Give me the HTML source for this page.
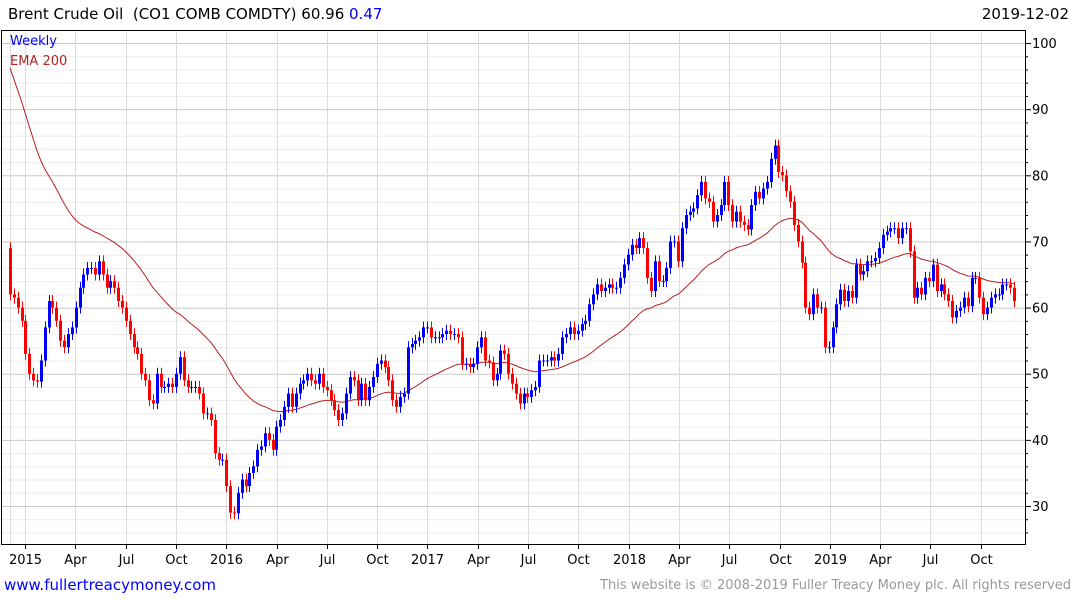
<!DOCTYPE html>
<html><head><meta charset="utf-8"><style>
body{margin:0;background:#fff;font-family:"DejaVu Sans","Liberation Sans",sans-serif;}
#wrap{position:relative;width:1075px;height:600px;overflow:hidden}
.t{position:absolute;white-space:nowrap}
</style></head><body>
<div id="wrap">
<div class="t" style="left:8px;top:5px;font-size:15px;color:#000">Brent Crude Oil&nbsp; (CO1 COMB COMDTY) 60.96 <span style="color:#0000ff">0.47</span></div>
<div class="t" style="right:6px;top:5px;font-size:15px;color:#000">2019-12-02</div>
<svg id="svg" width="1075" height="600" style="position:absolute;left:0;top:0"></svg>
<div class="t" style="left:4px;top:576px;font-size:15px;color:#0000ff">www.fullertreacymoney.com</div>
<div class="t" style="right:4px;top:578px;font-size:13px;color:#999">This website is © 2008-2019 Fuller Treacy Money plc. All rights reserved</div>
</div>
<script>
const closes=[62,61.5,60,58,
53,50,49,48.8,
52,57,61,60,
58,55,54,56,
57,60,63,65,66,
66,65,67,65,
63,64,63,61,
60,58,56,54,53,
50,49,46,45.5,50,
48,48,48.5,48,
50,52.5,49,48,48,
48,47,44,44,
43,38,37,37,
33,29,28.9,32,
34,33,35,36,
38.5,39,41,40,
38.5,42,43,45,47,
45,47,48.5,49,
50,49,48.5,50,
48,47.5,46,44.5,43,
44,47,49.5,49,
46,48.5,46,48,
49.5,51.5,52,51,49,
46,45,46.5,47,
54,54.5,55,55.5,57,
57,55.5,55.5,55.5,
56,56.5,56,56,
55.5,51.5,51.5,51,51.5,
54,55.5,52,51.7,
49,50,53.5,53,
50,48.5,47,45.5,47,
46.5,47.5,48,52,
52,52,52.5,52,
53,55.5,56,57,
56,56.5,57.5,58,60.5,
62,63.5,62.5,63,63.5,
63,63,64.5,66.5,
68,69.5,69,70.5,
69,64.5,62.5,67,64,
64,66,70,70,
67,72,74,74.5,
75,77,79,76.5,
76,73,74,75.5,
79,75.5,73,74.5,
73,72.5,71.8,75.5,77.5,
76.5,78,79,82.5,
84.5,80.5,80,77.6,76,
72.5,70,66.8,60,59,
62,60,60,54,54,
57,60.5,62.7,61,
62.5,61.5,66.5,65,
65.5,67,67,67.5,
69,71,71.5,72,72,
70.5,72,72,68.5,
61.5,63,62,64.5,
64,66.5,62.5,63.5,
62,61,58.5,59.5,60,
61.5,60.2,64.5,64.5,
61.5,59,60,61.5,62,
62,63.5,63.5,63,
60.96];
const firstOpen=69;
const emaSeed=98;
const emaPeriod=40;
const yTicks=[30,40,50,60,70,80,90,100];
const xLabels=["2015","Apr","Jul","Oct","2016","Apr","Jul","Oct","2017","Apr","Jul","Oct","2018","Apr","Jul","Oct","2019","Apr","Jul","Oct"];

const svg=document.getElementById('svg');
const NS='http://www.w3.org/2000/svg';
const L=1,T=30,R=1025,B=544;
const y=v=>506-(v-30)*6.614;
const x0=10,x1=1014;
const x=i=>x0+i*(x1-x0)/(closes.length-1);
const qx=q=>25+q*50.3;
function mk(tag,attrs){const e=document.createElementNS(NS,tag);for(const k in attrs)e.setAttribute(k,attrs[k]);svg.appendChild(e);return e;}
// minor horizontal grid
for(let v=26;v<=102;v+=2){if(y(v)<T||y(v)>B)continue;
 const g=mk('line',{x1:L,x2:R,y1:y(v)+.5,y2:y(v)+.5,stroke:v%10==0?'#c8c8c8':'#ececec','stroke-width':1});
 
 
 const tk=mk('line',{x1:R,x2:R+(v%10==0?6:3),y1:y(v)+.5,y2:y(v)+.5,stroke:'#000'});
 
 
}
// vertical grid
const vg=mk('line',{x1:10.5,x2:10.5,y1:T,y2:B,stroke:'#dcdcdc'});


xLabels.forEach((lab,q)=>{const xx=Math.round(qx(q))+.5;
 const g=mk('line',{x1:xx,x2:xx,y1:T,y2:B,stroke:'#dcdcdc'});
 
 
 const tk=mk('line',{x1:xx,x2:xx,y1:B,y2:B+5,stroke:'#000'});
 
 
 const t=mk('text',{x:xx,y:564,'text-anchor':'middle','font-size':13,'font-family':'DejaVu Sans, Liberation Sans, sans-serif',fill:'#000'});
 t.textContent=lab;
 
 
});
yTicks.forEach(v=>{const t=mk('text',{x:1032,y:y(v)+5,'font-size':13,'font-family':'DejaVu Sans, Liberation Sans, sans-serif',fill:'#000'});
 t.textContent=v;
 
 
});
// frame
const fr=mk('rect',{x:L+.5,y:T+.5,width:R-L,height:B-T,fill:'none',stroke:'#000'});


// EMA
let e=emaSeed,pts=[];const k=2/(emaPeriod+1);
closes.forEach((c,i)=>{e=c*k+e*(1-k);pts.push(x(i).toFixed(1)+','+y(e).toFixed(1));});
const pl=mk('polyline',{points:pts.join(' '),fill:'none',stroke:'#b22222','stroke-width':1});


// candles
closes.forEach((c,i)=>{const o=i?closes[i-1]:firstOpen;const up=c>=o;const col=up?'#0000ff':'#ff0000';
 const hi=Math.max(o,c)+0.9,lo=Math.min(o,c)-0.9;const xx=Math.round(x(i));
 const w=mk('line',{x1:xx+.5,x2:xx+.5,y1:y(hi),y2:y(lo),stroke:col});
 
 
 const top=y(Math.max(o,c)),h=Math.max(1,y(Math.min(o,c))-top);
 const b=mk('rect',{x:xx-1,y:top,width:3,height:h,fill:col});
 
 
});
// legend
const l1=mk('text',{x:10,y:45,'font-size':13,'font-family':'DejaVu Sans, Liberation Sans, sans-serif',fill:'#0000ff'});
l1.textContent='Weekly';


const l2=mk('text',{x:10,y:65,'font-size':13,'font-family':'DejaVu Sans, Liberation Sans, sans-serif',fill:'#b22222'});
l2.textContent='EMA 200';


</script>
</body></html>
